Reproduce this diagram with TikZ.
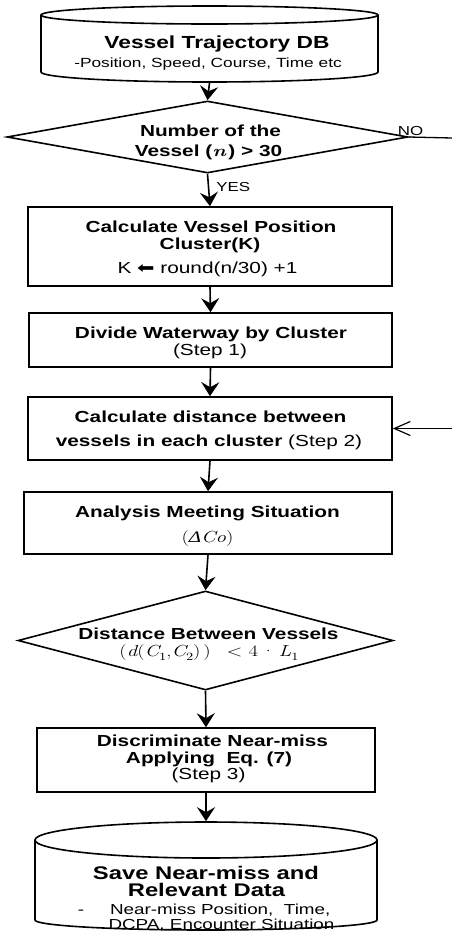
\documentclass[tikz,border=0pt]{standalone}
\usepackage{fontspec}
\usepackage{graphicx}
\setmainfont{Liberation Sans}[FakeStretch=1.3]
\newfontfamily\mrm{Latin Modern Roman}[FakeStretch=1.3]
\newfontfamily\lserif{Liberation Serif}[FakeStretch=1.3]
\newfontfamily\symf{DejaVu Sans}[FakeStretch=1.3]
\newcommand\mi[1]{{\mrm\itshape #1}}
\newcommand\msub[1]{\raisebox{-0.25em}{\fontsize{11}{11}\selectfont\mrm #1}}
\usetikzlibrary{shapes.geometric,arrows.meta}
\begin{document}
\begin{tikzpicture}[x=1pt, y=-1pt, line width=1.6pt,
  box/.style={draw, rectangle, inner sep=0pt},
  dia/.style={draw, diamond, inner sep=0pt},
  hold/.style={inner sep=0pt},
  txt/.style={inner sep=0pt, anchor=base},
  tb/.style={txt, font=\fontsize{16}{18}\selectfont\bfseries},
  tr/.style={txt, font=\fontsize{16}{18}\selectfont},
  arr/.style={-{Stealth[length=14pt,width=18pt,inset=5pt]}},
  openarr/.style={line width=1.2pt, -{Straight Barb[length=16pt,width=14pt]}}]
\useasboundingbox (0,0) rectangle (452,932);
% top database cylinder
\draw (209.5,15) ellipse [x radius=168.5pt, y radius=9pt];
\draw (41,15) -- (41,72) arc[start angle=180, end angle=360, x radius=168.5pt, y radius=10pt] -- (378,15);
\node[hold, minimum width=337pt, minimum height=76pt] (c1) at (209.5,44) {};
\node[tb, font=\fontsize{17.5}{19}\selectfont\bfseries] (c1a) at (217,48) {Vessel Trajectory DB};
\node[txt, font=\fontsize{13.3}{15}\selectfont] (c1b) at (208,67) {-Position, Speed, Course, Time etc};
% decision 1
\node[dia, minimum width=401pt, minimum height=72pt] (d1) at (207.5,137) {};
\node[tb] (d1a) at (210.5,136.5) {Number of the};
\node[tb] (d1b) at (208.5,156.5) {Vessel (\mi{n}\,) > 30};
\node[txt, anchor=base west, font=\fontsize{13}{15}\selectfont] (no) at (397,135) {NO};
\node[txt, anchor=base west, font=\fontsize{13}{15}\selectfont] (yes) at (215.5,191.5) {YES};
% box 1
\node[box, minimum width=364pt, minimum height=79pt] (b1) at (210,246.5) {};
\node[tb] (b1a) at (211,232) {Calculate Vessel Position};
\node[tb] (b1b) at (210,249.3) {Cluster(K)};
\node[tr] (b1c) at (207.5,273.3) {K {\symf ⬅} round(n/30) +1};
% box 2
\node[box, minimum width=363pt, minimum height=54pt] (b2) at (210.5,340) {};
\node[tb] (b2a) at (211,338.3) {Divide Waterway by Cluster};
\node[tr] (b2b) at (210,355.7) {(Step 1)};
% box 3
\node[box, minimum width=364pt, minimum height=63pt] (b3) at (210,428.5) {};
\node[tb] (b3a) at (210.5,422.7) {Calculate distance between};
\node[tb] (b3b) at (209,446.7) {vessels in each cluster {\mdseries (Step 2)}};
% box 4
\node[box, minimum width=368pt, minimum height=62pt] (b4) at (208,523) {};
\node[tb] (b4a) at (207.5,517.3) {Analysis Meeting Situation};
\node[txt, font=\fontsize{16}{18}\selectfont] (b4b) at (207.5,542) {{\mrm (}{\lserif\itshape Δ}\mi{Co}{\mrm )}};
% decision 2
\node[dia, minimum width=375pt, minimum height=99pt] (d2) at (205.5,640.5) {};
\node[tb] (d2a) at (208.5,639.3) {Distance Between Vessels};
\node[txt, font=\fontsize{16}{18}\selectfont\mrm] (d2b) at (209,656.5) {(\mi{d}(\mi{C}\msub{1},\mi{C}\msub{2})\,)\quad< 4{\,}·{\,}\mi{L}\msub{1}};
% box 5
\node[box, minimum width=338pt, minimum height=64pt] (b5) at (206,760) {};
\node[tb] (b5a) at (212.5,746.7) {Discriminate Near-miss};
\node[tb] (b5b) at (209,763.3) {Applying\ \ Eq. (7)};
\node[tr] (b5c) at (208.5,779.5) {(Step 3)};
% bottom database cylinder
\draw (206,840) ellipse [x radius=171pt, y radius=18pt];
\draw (35,840) -- (35,920) arc[start angle=180, end angle=360, x radius=171pt, y radius=10pt] -- (377,840);
\node[hold, minimum width=342pt, minimum height=108pt] (c2) at (206,876) {};
\node[tb, font=\fontsize{18.3}{20}\selectfont\bfseries] (c2a) at (206,879.5) {Save Near-miss and};
\node[tb, font=\fontsize{18.3}{20}\selectfont\bfseries] (c2b) at (206.5,896.5) {Relevant Data};
\node[txt, anchor=base west, font=\fontsize{14.5}{16}\selectfont] (c2c) at (77,914.5) {-\hspace{26pt}Near-miss Position,\ \ Time,};
\node[txt, font=\fontsize{14.5}{16}\selectfont] (c2d) at (221.5,929) {DCPA, Encounter Situation};
% connectors
\coordinate (noA) at (452,138);
\coordinate (noB) at (452,428.5);
\draw[arr] (c1.south) -- (d1.north);
\draw[arr] (d1.south) -- (b1.north);
\draw[arr] (b1.south) -- (b2.north);
\draw[arr] (b2.south) -- (b3.north);
\draw[arr] (b3.south) -- (b4.north);
\draw[arr] (b4.south) -- (d2.north);
\draw[arr] (d2.south) -- (b5.north);
\draw[arr] (b5.south) -- (c2.north);
\draw[line width=1.3pt] (d1.east) -- (noA);
\draw[openarr] (noB) -- (b3.east);
\end{tikzpicture}
\end{document}
